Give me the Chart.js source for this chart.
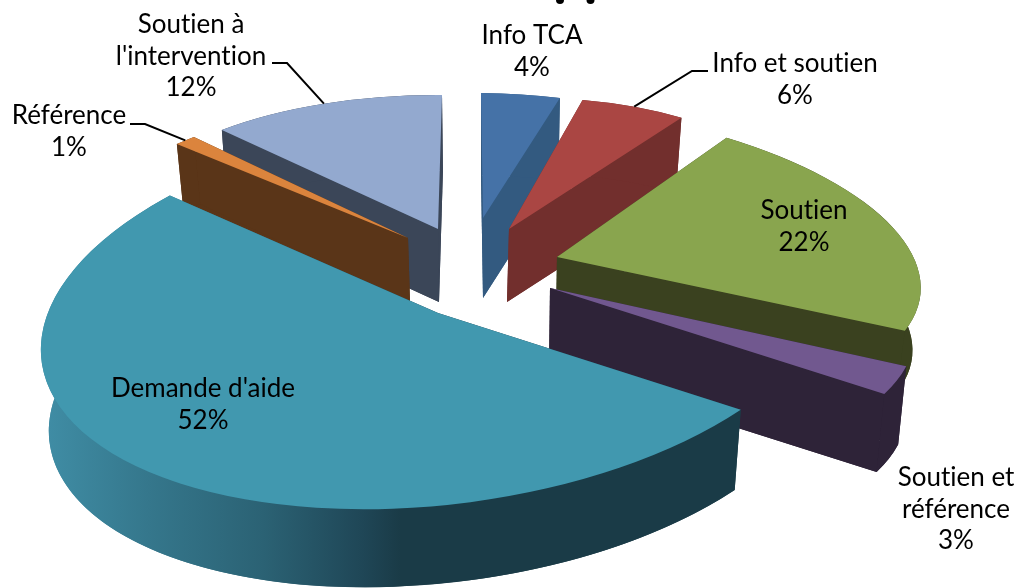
<!DOCTYPE html>
<html lang="fr">
<head>
    <meta charset="UTF-8">
    <title>Demandes</title>
    <script src="https://cdn.jsdelivr.net/npm/chart.js@4/dist/chart.umd.min.js"></script>
    <style>
        html, body { margin: 0; background: #fff; }
        canvas { display: block; }
    </style>
</head>
<body>
    <canvas id="chart" width="1017" height="588"></canvas>

    <script>
        const categories = ["Info TCA", "Info et soutien", "Soutien", "Soutien et référence", "Demande d'aide", "Référence", "Soutien à l'intervention"];
        const values = [4, 6, 22, 3, 52, 1, 12];

        const topColors = ['#4572a7', '#aa4643', '#89a54e', '#71588f', '#4198af', '#db843d', '#93a9cf'];
        const wallColors = ['#335a80', '#722f2d', '#3a411f', '#2e2338', null, '#5a3518', '#3b4658'];

        // how each exploded slice sits in the fake 3D view: centre, right and up axes, wall depth
        const views = [
            { c: [483, 218], u: [317, 4], v: [-2, -125], d: [0, 80] },
            { c: [509, 229], u: [292, -9], v: [1, -131], d: [-2, 73] },
            { c: [557, 257], u: [360, 9], v: [-52, -154], d: [-1, 63] },
            { c: [550, 288], u: [358, 4], v: [-76, -175], d: [-1, 80] },
            { c: [438, 313], u: [396, -22], v: [30, -195], d: [0, 82] },
            { c: [408, 238], u: [349, -11], v: [34, -149], d: [2, 65] },
            { c: [438, 229], u: [320, 2], v: [4, -134], d: [1, 73] }
        ];

        // label lines (centre x, first line middle y), in data order
        const labelLines = [
            ['Info TCA'], ['Info et soutien'], ['Soutien'], ['Soutien et', 'référence'],
            ["Demande d'aide"], ['Référence'], ['Soutien à', "l'intervention"]
        ];
        const labelPos = [[532, 36], [795, 64], [804, 211], [956, 478], [203, 389], [69, 116], [191, 25]];
        const lineGap = 31.5;

        // leader line: text end and elbow, the last point comes from the slice itself
        const leaders = { 1: [[708, 71], [692, 71]], 5: [[130, 124], [145, 124]], 6: [[272, 63], [287, 63]] };

        function setView(ctx, base, arc, view, bottom) {
            const r = arc.outerRadius;
            const k = bottom ? 0.98 : 1;
            ctx.setTransform(base);
            ctx.translate(view.c[0] + (bottom ? view.d[0] : 0), view.c[1] + (bottom ? view.d[1] : 0));
            ctx.transform(k * view.u[0] / r, k * view.u[1] / r, -k * view.v[0] / r, -k * view.v[1] / r, 0, 0);
            ctx.translate(-arc.x, -arc.y);
        }

        function drawWalls(ctx, base, arc, view, fill) {
            const { x, y, outerRadius: r, startAngle, endAngle } = arc;
            ctx.fillStyle = fill;

            // bottom face
            setView(ctx, base, arc, view, true);
            ctx.beginPath();
            ctx.moveTo(x, y);
            ctx.arc(x, y, r, startAngle, endAngle);
            ctx.closePath();
            ctx.setTransform(base);
            ctx.fill();

            // the two cut faces
            [startAngle, endAngle].forEach(angle => {
                const px = x + Math.cos(angle) * r;
                const py = y + Math.sin(angle) * r;
                ctx.beginPath();
                setView(ctx, base, arc, view, false);
                ctx.moveTo(x, y);
                ctx.lineTo(px, py);
                setView(ctx, base, arc, view, true);
                ctx.lineTo(px, py);
                ctx.lineTo(x, y);
                ctx.closePath();
                ctx.setTransform(base);
                ctx.fill();
            });

            // outer rim
            ctx.beginPath();
            setView(ctx, base, arc, view, false);
            ctx.arc(x, y, r, startAngle, endAngle);
            setView(ctx, base, arc, view, true);
            ctx.arc(x, y, r, endAngle, startAngle, true);
            ctx.closePath();
            ctx.setTransform(base);
            ctx.fill();
        }

        const pie3d = {
            id: 'pie3d',
            beforeDatasetDraw(chart) {
                const ctx = chart.ctx;
                const arcs = chart.getDatasetMeta(0).data;
                const base = ctx.getTransform();

                const demandeWall = ctx.createLinearGradient(40, 0, 400, 0);
                demandeWall.addColorStop(0, '#408ea6');
                demandeWall.addColorStop(0.3, '#35778c');
                demandeWall.addColorStop(0.62, '#2b6274');
                demandeWall.addColorStop(0.9, '#1f4656');
                demandeWall.addColorStop(1, '#1a3b47');

                // back to front
                const order = views.map((v, i) => i).sort((a, b) => views[a].c[1] - views[b].c[1]);
                ctx.save();
                order.forEach(i => {
                    drawWalls(ctx, base, arcs[i], views[i], wallColors[i] || demandeWall);
                    setView(ctx, base, arcs[i], views[i], false);
                    arcs[i].draw(ctx);
                });
                ctx.setTransform(base);
                ctx.restore();
                return false;
            },
            afterDatasetsDraw(chart) {
                const ctx = chart.ctx;
                const arcs = chart.getDatasetMeta(0).data;
                ctx.save();

                ctx.strokeStyle = '#000';
                ctx.lineWidth = 2;
                Object.keys(leaders).forEach(key => {
                    const i = Number(key);
                    const mid = (arcs[i].startAngle + arcs[i].endAngle) / 2 + Math.PI / 2;
                    const v = views[i];
                    ctx.beginPath();
                    ctx.moveTo(leaders[key][0][0], leaders[key][0][1]);
                    ctx.lineTo(leaders[key][1][0], leaders[key][1][1]);
                    ctx.lineTo(v.c[0] + Math.sin(mid) * v.u[0] + Math.cos(mid) * v.v[0],
                               v.c[1] + Math.sin(mid) * v.u[1] + Math.cos(mid) * v.v[1]);
                    ctx.stroke();
                });

                // what is left of the title cut off by the crop
                ctx.fillStyle = '#000';
                [560, 590.5].forEach(x => {
                    ctx.beginPath();
                    ctx.arc(x, 0, 4, 0, Math.PI * 2);
                    ctx.fill();
                });

                ctx.font = '26px Lato';
                ctx.textRendering = 'optimizeSpeed';
                ctx.textAlign = 'center';
                ctx.textBaseline = 'middle';
                values.forEach((value, i) => {
                    const lines = labelLines[i].concat(value + '%');
                    lines.forEach((line, n) => {
                        ctx.fillText(line, labelPos[i][0], labelPos[i][1] + n * lineGap);
                    });
                });
                ctx.restore();
            }
        };

        new Chart(document.getElementById('chart'), {
            type: 'pie',
            data: {
                labels: categories,
                datasets: [{
                    data: values,
                    backgroundColor: topColors,
                    borderWidth: 0
                }]
            },
            options: {
                responsive: false,
                animation: false,
                plugins: {
                    legend: { display: false },
                    tooltip: { enabled: false }
                }
            },
            plugins: [pie3d]
        });
    </script>
</body>
</html>
